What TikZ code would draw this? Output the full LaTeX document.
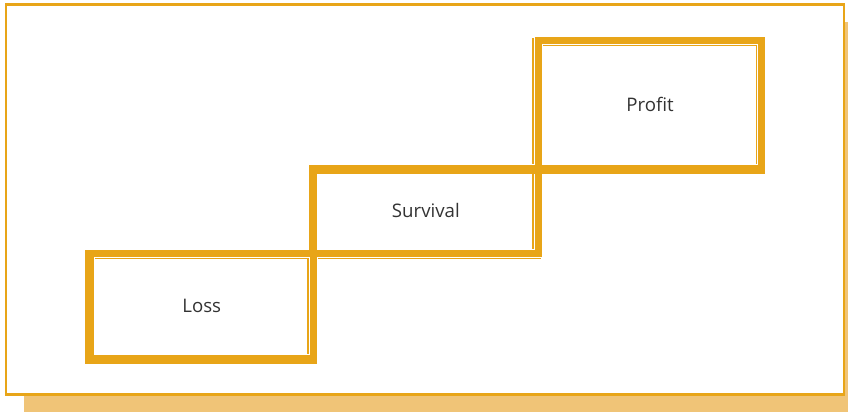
\documentclass[tikz,border=0pt]{standalone}
\usepackage{fontspec}
\setmainfont{Open Sans}
\definecolor{gold}{HTML}{E8A518}
\definecolor{goldlight}{HTML}{F0C477}
\definecolor{txt}{HTML}{333333}
\begin{document}
\begin{tikzpicture}[x=0.75pt,y=-0.75pt,
  stepbox/.style={draw=gold, line width=5.25pt, inner sep=0pt, font=\fontsize{14pt}{16pt}\selectfont, text=txt},
  halo/.style={draw=white, line width=6.9pt},
  thingap/.style={draw=gold, line width=1.2pt},
  thinadj/.style={draw=gold, line width=1.5pt}]
\clip (0,0) rectangle (848,411);
\useasboundingbox (0,0) rectangle (848,411);
% shadow and frame
\fill[goldlight] (24,22) rectangle (880,440);
\draw[gold, fill=white, line width=1.9pt] (6,4.5) rectangle (844,394.6);
% thin lines with a gap
\draw[thingap] (533.2,38) -- (533.2,251);
\draw[thingap] (540,45.3) -- (759,45.3);
\draw[thingap] (756.9,44) -- (756.9,167);
\draw[thingap] (91,258.5) -- (541,258.5);
\draw[thingap] (308,256) -- (308,357);
% white halos
\draw[halo] (538.3,40.5) rectangle (761.8,168.5);
\draw[halo] (313.5,168.5) rectangle (538.3,253.4);
\draw[halo] (90,253.4) rectangle (313.5,358.5);
% boxes
\node[stepbox, minimum width=223.5*0.75pt, minimum height=128*0.75pt] (profit) at (650.05,104.5) {Profit};
\node[stepbox, minimum width=224.8*0.75pt, minimum height=84.9*0.75pt] (survival) at (425.9,210.95) {Survival};
\node[stepbox, minimum width=223.5*0.75pt, minimum height=105.1*0.75pt] (loss) at (201.75,305.95) {Loss};
% thin lines adjacent to the thick ones
\draw[thinadj] (85.8,250) -- (85.8,363.5);
\draw[thinadj] (85,363) -- (317,363);
\draw[thinadj] (309,173) -- (765.3,173);
\draw[thinadj] (310,165) -- (310,254);
\end{tikzpicture}
\end{document}
